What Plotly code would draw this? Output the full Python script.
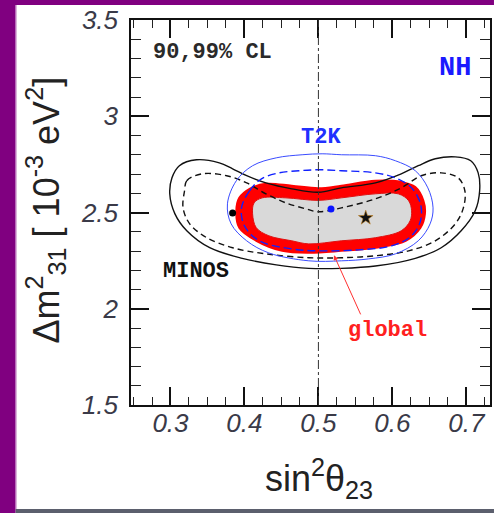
import plotly.graph_objects as go

# ---- allowed regions in the (sin^2 theta23, Delta m^2_31) plane, normal hierarchy ----
# MINOS: 99% CL (solid) and 90% CL (dashed)
minos99_x = [0.299, 0.302, 0.312, 0.335, 0.366, 0.384, 0.403, 0.429, 0.464, 0.500, 0.531,
             0.577, 0.612, 0.635, 0.658, 0.685, 0.706, 0.716, 0.718, 0.712, 0.693, 0.666,
             0.631, 0.577, 0.531, 0.487, 0.443, 0.397, 0.353, 0.322, 0.306, 0.299]
minos99_y = [2.597, 2.680, 2.743, 2.774, 2.758, 2.727, 2.691, 2.654, 2.623, 2.605, 2.628,
             2.654, 2.701, 2.743, 2.779, 2.789, 2.769, 2.706, 2.613, 2.509, 2.405, 2.317,
             2.262, 2.222, 2.210, 2.210, 2.228, 2.262, 2.317, 2.405, 2.493, 2.597]
minos90_x = [0.319, 0.322, 0.343, 0.376, 0.403, 0.429, 0.456, 0.483, 0.500, 0.531, 0.577,
             0.612, 0.639, 0.666, 0.689, 0.698, 0.696, 0.685, 0.658, 0.622, 0.577, 0.531,
             0.487, 0.429, 0.384, 0.349, 0.326, 0.317, 0.319]
minos90_y = [2.613, 2.665, 2.701, 2.691, 2.654, 2.597, 2.550, 2.519, 2.504, 2.524, 2.571,
             2.628, 2.691, 2.706, 2.680, 2.613, 2.524, 2.441, 2.353, 2.301, 2.275, 2.265,
             2.265, 2.285, 2.317, 2.369, 2.441, 2.524, 2.613]

# T2K: 99% CL (solid) and 90% CL (dashed)
t2k99_x = [0.377, 0.389, 0.411, 0.443, 0.478, 0.505, 0.531, 0.577, 0.604, 0.631, 0.648,
           0.655, 0.651, 0.635, 0.604, 0.568, 0.531, 0.487, 0.433, 0.403, 0.382, 0.377]
t2k99_y = [2.545, 2.665, 2.743, 2.784, 2.800, 2.805, 2.800, 2.795, 2.769, 2.717, 2.628,
           2.524, 2.441, 2.353, 2.285, 2.259, 2.249, 2.249, 2.290, 2.353, 2.441, 2.545]
t2k90_x = [0.396, 0.407, 0.423, 0.447, 0.474, 0.500, 0.531, 0.577, 0.604, 0.626, 0.638,
           0.638, 0.626, 0.599, 0.554, 0.500, 0.464, 0.420, 0.400, 0.396]
t2k90_y = [2.524, 2.613, 2.675, 2.706, 2.717, 2.722, 2.717, 2.706, 2.680, 2.628, 2.545,
           2.457, 2.379, 2.327, 2.306, 2.301, 2.311, 2.353, 2.431, 2.524]

# global fit: 99% CL boundary (red) and 90% CL region (grey)
glob99_x = [0.389, 0.393, 0.407, 0.429, 0.464, 0.500, 0.531, 0.577, 0.612, 0.631, 0.642,
            0.644, 0.638, 0.618, 0.577, 0.531, 0.487, 0.451, 0.416, 0.393, 0.389]
glob99_y = [2.509, 2.576, 2.623, 2.649, 2.639, 2.626, 2.639, 2.665, 2.659, 2.632, 2.561,
            2.493, 2.421, 2.353, 2.317, 2.301, 2.291, 2.301, 2.353, 2.421, 2.509]
glob90_x = [0.411, 0.413, 0.424, 0.456, 0.500, 0.531, 0.577, 0.608, 0.622, 0.626, 0.624,
            0.612, 0.577, 0.531, 0.487, 0.464, 0.433, 0.416, 0.411]
glob90_y = [2.493, 2.550, 2.576, 2.576, 2.563, 2.576, 2.597, 2.597, 2.561, 2.509, 2.457,
            2.405, 2.369, 2.353, 2.337, 2.353, 2.379, 2.421, 2.493]

# best-fit points
minos_best = (0.384, 2.498)
t2k_best = (0.517, 2.518)
global_best = (0.564, 2.472)

x_ticks = [0.3, 0.4, 0.5, 0.6, 0.7]
x_tick_text = ["0.3", "0.4", "0.5", "0.6", "0.7"]
y_ticks = [1.5, 2.0, 2.5, 3.0, 3.5]
y_tick_text = ["1.5", "2", "2.5", "3", "3.5"]

W, H = 494, 513
ML, MR, MT, MB = 131, 2, 20, 108
PW, PH = W - ML - MR, H - MT - MB


def px_x(p):
    return (p - ML) / PW


def px_y(p):
    return (H - MB - p) / PH


fig = go.Figure()

# red 99% band with grey 90% core
fig.add_trace(go.Scatter(x=glob99_x, y=glob99_y, mode="lines", fill="toself",
                         fillcolor="#ff0000", line=dict(color="#ff0000", width=2, shape="spline"),
                         hoverinfo="skip"))
fig.add_trace(go.Scatter(x=glob90_x, y=glob90_y, mode="lines", fill="toself",
                         fillcolor="#d9d9d9", line=dict(color="#e01010", width=1, shape="spline"),
                         hoverinfo="skip"))

# MINOS and T2K contours
fig.add_trace(go.Scatter(x=minos99_x, y=minos99_y, mode="lines",
                         line=dict(color="#111111", width=1.4, shape="spline"), hoverinfo="skip"))
fig.add_trace(go.Scatter(x=minos90_x, y=minos90_y, mode="lines",
                         line=dict(color="#111111", width=1.4, dash="6px,4px", shape="spline"),
                         hoverinfo="skip"))
fig.add_trace(go.Scatter(x=t2k99_x, y=t2k99_y, mode="lines",
                         line=dict(color="#3a4cff", width=1.0, shape="spline"), hoverinfo="skip"))
fig.add_trace(go.Scatter(x=t2k90_x, y=t2k90_y, mode="lines",
                         line=dict(color="#1020ff", width=1.4, dash="8px,4px", shape="spline"),
                         hoverinfo="skip"))

# best-fit markers
fig.add_trace(go.Scatter(x=[minos_best[0]], y=[minos_best[1]], mode="markers",
                         marker=dict(color="#000000", size=7, symbol="circle"), hoverinfo="skip"))
fig.add_trace(go.Scatter(x=[t2k_best[0]], y=[t2k_best[1]], mode="markers",
                         marker=dict(color="#0a14ff", size=7, symbol="circle"), hoverinfo="skip"))
fig.add_trace(go.Scatter(x=[global_best[0]], y=[global_best[1]], mode="markers",
                         marker=dict(color="#111111", size=11, symbol="star",
                                     line=dict(color="#c08020", width=0.6)),
                         hoverinfo="skip"))

label_font = dict(family="Liberation Mono", size=22)
annotations = [
    dict(x=0.357, y=3.33, text="<b>90,99% CL</b>", font=dict(label_font, color="#2a2a2a")),
    dict(x=0.684, y=3.25, text="<b>NH</b>", font=dict(family="Liberation Mono", size=27, color="#1a1aff")),
    dict(x=0.503, y=2.888, text="<b>T2K</b>", font=dict(label_font, color="#2030ff")),
    dict(x=0.334, y=2.192, text="<b>MINOS</b>", font=dict(label_font, color="#111111")),
    dict(x=0.593, y=1.886, text="<b>global</b>", font=dict(label_font, color="#ff2020")),
]
for a in annotations:
    fig.add_annotation(xref="x", yref="y", showarrow=False, xanchor="center", yanchor="middle", **a)

# arrow pointing from the "global" label to the contour
fig.add_annotation(x=0.521, y=2.278, ax=0.558, ay=1.963, xref="x", yref="y", axref="x", ayref="y",
                   text="", showarrow=True, arrowhead=2, arrowsize=1, arrowwidth=1,
                   arrowcolor="#ff3030")

# axis titles
fig.add_annotation(xref="paper", yref="paper", x=px_x(45), y=px_y(210), textangle=-90,
                   text="Δm<sup>2</sup><sub>31</sub> [ 10<sup>-3</sup> eV<sup>2</sup>]",
                   showarrow=False, xanchor="center", yanchor="middle",
                   font=dict(family="Liberation Sans", size=36, color="#222222"))
fig.add_annotation(xref="paper", yref="paper", x=px_x(320), y=px_y(478),
                   text="sin<sup>2</sup>θ<sub>23</sub>",
                   showarrow=False, xanchor="center", yanchor="middle",
                   font=dict(family="Liberation Sans", size=36, color="#222222"))

shapes = [
    # theta23 = 45 degrees reference line
    dict(type="line", xref="x", yref="paper", x0=0.5, x1=0.5, y0=0, y1=1,
         line=dict(color="#333333", width=1, dash="dashdot"), layer="above"),
    # page frame: purple left and top strips, dark bottom strip
    dict(type="rect", xref="paper", yref="paper", x0=px_x(-2), x1=px_x(15), y0=px_y(H + 2), y1=px_y(-2),
         fillcolor="#800080", line=dict(width=0), layer="above"),
    dict(type="rect", xref="paper", yref="paper", x0=px_x(15), x1=px_x(16), y0=px_y(509), y1=px_y(5),
         fillcolor="#c98ac9", line=dict(width=0), layer="above"),
    dict(type="rect", xref="paper", yref="paper", x0=px_x(-2), x1=px_x(W + 2), y0=px_y(5), y1=px_y(-2),
         fillcolor="#800080", line=dict(width=0), layer="above"),
    dict(type="rect", xref="paper", yref="paper", x0=px_x(15), x1=px_x(W + 2), y0=px_y(H + 2), y1=px_y(509),
         fillcolor="#5b5f6d", line=dict(width=0), layer="above"),
]

tick_font = dict(family="Liberation Sans", size=26, color="#3a3a48", style="italic")
fig.update_layout(
    width=W, height=H,
    margin=dict(l=ML, r=MR, t=MT, b=MB, pad=0),
    paper_bgcolor="#ffffff", plot_bgcolor="#ffffff",
    showlegend=False,
    shapes=shapes,
    xaxis=dict(range=[0.2466, 0.732], tickvals=x_ticks, ticktext=x_tick_text,
               ticks="inside", ticklen=18, tickwidth=1.5, tickcolor="#111111",
               minor=dict(dtick=0.025, tick0=0.0, ticks="inside", ticklen=8, tickwidth=1.2,
                          tickcolor="#222222"),
               showline=True, linecolor="#111111", linewidth=1.5, mirror="ticks",
               showgrid=False, zeroline=False, tickfont=tick_font, ticklabelstandoff=-6),
    yaxis=dict(range=[1.5, 3.5], tickvals=y_ticks, ticktext=y_tick_text,
               ticks="inside", ticklen=18, tickwidth=1.5, tickcolor="#111111",
               minor=dict(dtick=0.1, tick0=0.0, ticks="inside", ticklen=10, tickwidth=1.2,
                          tickcolor="#222222"),
               showline=True, linecolor="#111111", linewidth=1.5, mirror="ticks",
               showgrid=False, zeroline=False, tickfont=tick_font, ticklabelstandoff=6),
)

fig.write_html("out.html")
